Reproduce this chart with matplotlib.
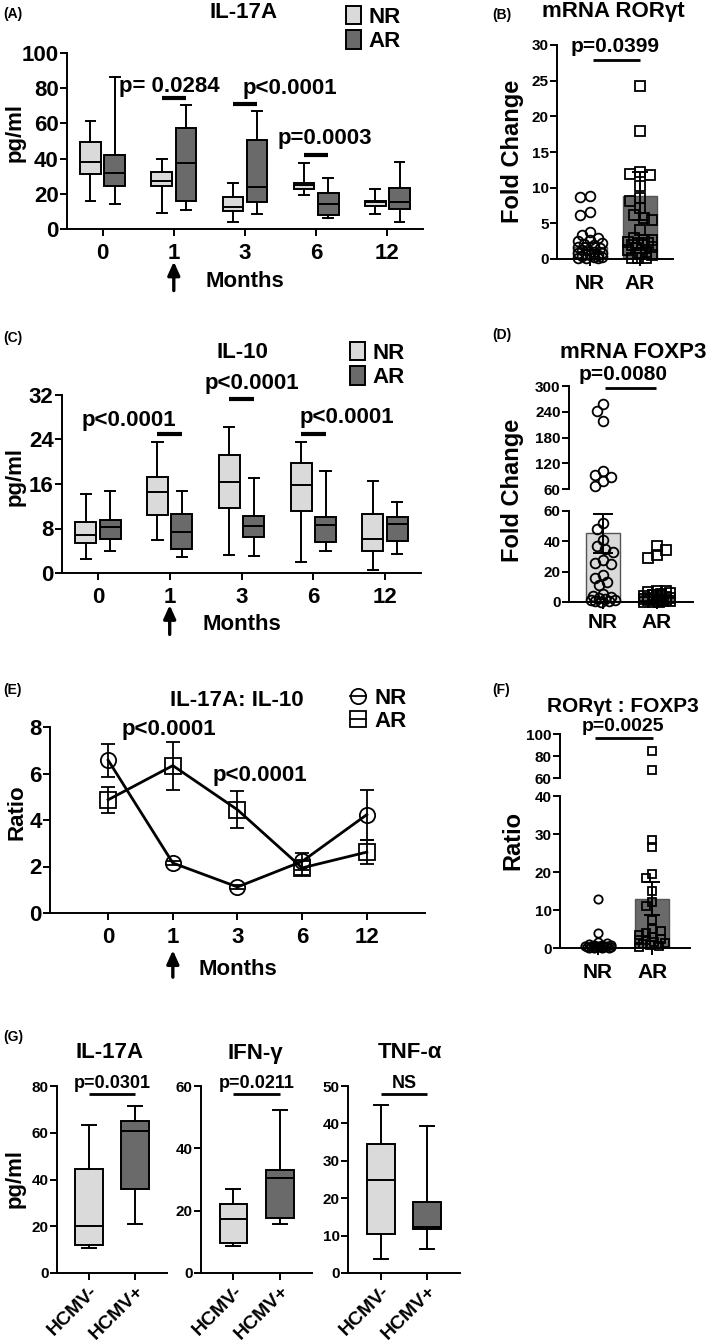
import numpy as np
import matplotlib
matplotlib.use('Agg')
import matplotlib.pyplot as plt
from matplotlib.patches import Patch
from matplotlib.lines import Line2D
from matplotlib.transforms import blended_transform_factory

plt.rcParams['font.family'] = ['Liberation Sans', 'DejaVu Sans']
plt.rcParams['font.weight'] = 'bold'
plt.rcParams['axes.linewidth'] = 1.4

W, H = 709, 1342
LIGHT = '#dadada'
DARK = '#6a6a6a'

# ---- data ----
months = ['0', '1', '3', '6', '12']
groups = ['NR', 'AR']

# box stats per month: (whislo, q1, med, q3, whishi)
il17a_nr = [(15.9, 31.3, 37.9, 49.4, 61.4), (9.1, 24.6, 27.0, 32.4, 39.6),
            (4.2, 10.0, 12.5, 18.2, 26.3), (19.1, 22.9, 25.2, 26.3, 37.3),
            (8.5, 12.9, 15.2, 16.1, 22.9)]
il17a_ar = [(14.0, 24.4, 31.6, 42.0, 86.4), (10.6, 16.1, 37.3, 57.4, 70.6),
            (8.7, 15.2, 23.9, 50.4, 66.9), (6.4, 8.1, 14.2, 20.6, 28.8),
            (4.0, 11.4, 15.5, 23.3, 37.9)]
il17a_sig_month = [1, 2, 3]
il17a_sig_y = [74.4, 71.2, 41.9]

il10_nr = [(2.5, 5.4, 6.9, 9.2, 14.2), (6.0, 10.5, 14.5, 17.3, 23.5),
           (3.2, 11.6, 16.3, 21.2, 26.2), (2.0, 11.2, 15.8, 19.8, 23.6),
           (0.6, 3.9, 6.1, 10.6, 16.6)]
il10_ar = [(3.9, 6.2, 8.2, 9.5, 14.8), (2.8, 4.4, 7.3, 10.6, 14.8),
           (3.1, 6.4, 8.5, 10.3, 17.0), (3.9, 5.6, 8.6, 10.1, 18.4),
           (3.5, 5.8, 8.8, 10.0, 12.8)]
il10_sig_month = [1, 2, 3]
il10_sig_y = [24.9, 31.3, 24.9]

ratio_nr = [6.57, 2.15, 1.12, 2.22, 4.23]
ratio_nr_err = [0.7, 0.1, 0.1, 0.35, 1.07]
ratio_ar = [4.87, 6.34, 4.44, 1.94, 2.62]
ratio_ar_err = [0.55, 1.03, 0.8, 0.3, 0.5]

ror_nr = [8.9, 8.7, 6.6, 6.2, 3.8, 3.3, 3.0, 2.7, 2.5, 2.3, 2.1, 1.9, 1.7, 1.5,
          1.3, 1.2, 1.0, 0.9, 0.8, 0.7, 0.6, 0.5, 0.4, 0.3, 0.3, 0.2, 0.2, 0.1]
ror_ar = [24.2, 17.9, 12.2, 11.9, 11.8, 10.3, 8.6, 8.2, 7.1, 6.2, 5.8, 5.4, 4.0,
          3.0, 2.7, 2.6, 2.4, 2.3, 2.2, 2.0, 1.9, 1.7, 1.5, 1.2, 1.0, 0.8, 0.5,
          0.2, 0.1, 0.1]
ror_mean = [1.7, 8.8]
ror_err = [0.5, 3.4]

foxp3_nr = [258, 242, 218, 101, 93, 87, 78, 66, 52, 48, 41, 37, 35, 33, 28, 26,
            25, 18, 16, 13, 11, 5, 4, 3, 2.5, 2, 1.5, 1, 0.8, 0.5, 0.3]
foxp3_ar = [37, 34, 31, 29, 7.5, 7, 6.5, 6, 5, 4.5, 4, 3.5, 3, 2.8, 2.5, 2.2,
            2, 1.8, 1.5, 1.2, 1, 0.8, 0.5, 0.3, 0.2, 0.1]
foxp3_mean = [45.3, 4.5]
foxp3_err = [13.0, 3.2]

rf_nr = [12.8, 3.9, 1.5, 1.2, 1.0, 0.9, 0.8, 0.7, 0.6, 0.5, 0.45, 0.4, 0.35,
         0.3, 0.25, 0.2, 0.15, 0.1, 0.1, 0.05, 0.05]
rf_ar = [85, 67, 28.5, 26.5, 19.5, 18.3, 15, 12, 11, 7.5, 5, 4.5, 4, 3.5, 3,
         2.5, 2.2, 2, 1.5, 1.2, 1, 0.8, 0.5, 0.3]
rf_mean = [0.8, 13.0]
rf_err = [0.5, 4.3]

hcmv = ['HCMV-', 'HCMV+']
g_il17a = [(10.7, 12.1, 19.9, 44.3, 63.2), (20.9, 35.8, 60.7, 65.1, 71.3)]
g_ifng = [(8.7, 9.6, 17.3, 22.1, 27.0), (15.7, 17.6, 30.4, 33.0, 52.2)]
g_tnfa = [(3.8, 10.4, 24.9, 34.5, 45.0), (6.5, 11.7, 12.3, 18.9, 39.3)]

fig = plt.figure(figsize=(W / 100, H / 100), dpi=100)


def add_ax(left, top, right, bottom):
    # pixel box -> figure fraction
    return fig.add_axes([left / W, 1 - bottom / H, (right - left) / W, (bottom - top) / H])


def ftext(x, y, s, **kw):
    kw.setdefault('ha', 'center')
    kw.setdefault('va', 'center')
    fig.text(x / W, 1 - y / H, s, **kw)


def style(ax, ysize, xsize, xpad=3):
    for s in ['top', 'right']:
        ax.spines[s].set_visible(False)
    ax.tick_params(axis='y', direction='out', length=5, width=1.4, labelsize=ysize, pad=1)
    ax.tick_params(axis='x', direction='out', length=5, width=1.4, labelsize=xsize, pad=xpad)


def boxes(ax, rows, pos, color, width, capw):
    stats = [dict(whislo=a, q1=b, med=c, q3=d, whishi=e) for a, b, c, d, e in rows]
    lp = dict(color='black', linewidth=1.4)
    ax.bxp(stats, positions=pos, widths=width, capwidths=capw, patch_artist=True,
           showfliers=False, manage_ticks=False,
           boxprops=dict(facecolor=color, edgecolor='black', linewidth=1.4),
           medianprops=lp, whiskerprops=lp, capprops=lp)


def swarm_x(vals, center, ax, d, maxo):
    # beeswarm-like spread, offsets limited to +-maxo pixels
    pos = ax.get_position()
    x0, x1 = ax.get_xlim()
    y0, y1 = ax.get_ylim()
    ppx = pos.width * W / (x1 - x0)
    ppy = pos.height * H / (y1 - y0)
    ys = (np.asarray(vals, dtype=float) - y0) * ppy
    cands = np.linspace(-maxo, maxo, 13)
    cands = cands[np.argsort(np.abs(cands), kind='stable')]
    xs = np.zeros(len(ys))
    placed = []
    for i in np.argsort(-ys):
        best, best_d = 0.0, -1.0
        for off in cands:
            md = min([np.hypot(off - px, ys[i] - py) for px, py in placed] or [1e9])
            if md >= 0.85 * d:
                best = off
                break
            if md > best_d:
                best, best_d = off, md
        placed.append((best, ys[i]))
        xs[i] = center + best / ppx
    return xs


def scatter_group(ax, vals, center, marker, ms, d, maxo):
    if len(vals) == 0:
        return
    xs = swarm_x(vals, center, ax, d, maxo)
    ax.plot(xs, vals, linestyle='none', marker=marker, ms=ms, mfc='none', mec='black',
            mew=1.3, zorder=3, clip_on=False)


def sig(ax, x1, x2, y, lw=2.5):
    ax.plot([x1, x2], [y, y], color='black', lw=lw, solid_capstyle='butt', clip_on=False)


def months_label(ax, ylab, ytip, ytail):
    tr = blended_transform_factory(ax.transData, ax.transAxes)
    ax.text(2, ylab, 'Months', transform=tr, ha='center', va='center', fontsize=16)
    ax.annotate('', xy=(1, ytip), xytext=(1, ytail), xycoords=tr, textcoords=tr,
                arrowprops=dict(arrowstyle='-|>,head_length=0.4,head_width=0.18',
                                lw=2.4, color='black', mutation_scale=20, shrinkA=0, shrinkB=0))


def box_legend(x, y):
    handles = [Patch(facecolor=LIGHT, edgecolor='black', lw=1.4, label='NR'),
               Patch(facecolor=DARK, edgecolor='black', lw=1.4, label='AR')]
    fig.legend(handles=handles, loc='upper left', bbox_to_anchor=(x / W, 1 - y / H),
               frameon=False, fontsize=16, handlelength=0.68, handleheight=0.9,
               handletextpad=0.35, labelspacing=0.1, borderpad=0, borderaxespad=0)


x = np.arange(len(months))

# ---- (A) IL-17A ----
axA = add_ax(67, 53, 423, 229)
boxes(axA, il17a_nr, x - 0.17, LIGHT, 0.29, 0.14)
boxes(axA, il17a_ar, x + 0.17, DARK, 0.29, 0.14)
axA.set_xlim(-0.5, 4.5)
axA.set_ylim(0, 100)
axA.set_yticks([0, 20, 40, 60, 80, 100])
axA.set_xticks(x, months)
style(axA, 16, 16, 5)
for m, yb in zip(il17a_sig_month, il17a_sig_y):
    sig(axA, m - 0.17, m + 0.17, yb, 3)
axA.text(0.93, 80.7, 'p= 0.0284', ha='center', va='center', fontsize=16)
axA.text(1.97, 79.7, 'p<0.0001', ha='left', va='center', fontsize=16)
axA.text(2.46, 51.7, 'p=0.0003', ha='left', va='center', fontsize=16)
months_label(axA, -0.30, -0.185, -0.35)
ftext(244, 13, 'IL-17A', fontsize=16)
ftext(15, 133, 'pg/ml', rotation=90, fontsize=16)
ftext(3, 14, '(A)', ha='left', fontsize=10)
box_legend(346, 6)

# ---- (B) mRNA RORgt ----
axB = add_ax(557, 45, 673, 259)
axB.set_xlim(-0.66, 1.66)
axB.set_ylim(0, 30)
axB.bar([0, 1], ror_mean, width=0.68, color=[LIGHT, DARK], edgecolor='#555555', lw=1, zorder=1)
scatter_group(axB, ror_nr, 0, 'o', 7, 10, 12)
scatter_group(axB, ror_ar, 1, 's', 7, 10, 12)
axB.errorbar([0, 1], ror_mean, yerr=ror_err, fmt='none', ecolor='black', elinewidth=1.4,
             capsize=6, capthick=1.4, zorder=4)
axB.set_yticks([0, 5, 10, 15, 20, 25, 30])
axB.set_xticks([0, 1], groups)
style(axB, 11, 15, 6)
sig(axB, 0.05, 1.0, 27.9, 2)
axB.text(0.5, 29.8, 'p=0.0399', ha='center', va='center', fontsize=15)
ftext(613, 12, 'mRNA ROR\u03b3t', fontsize=16)
ftext(513, 151, 'Fold Change', rotation=90, fontsize=17)
ftext(492, 15, '(B)', ha='left', fontsize=10)

# ---- (C) IL-10 ----
axC = add_ax(62, 395, 421, 573)
boxes(axC, il10_nr, x - 0.17, LIGHT, 0.29, 0.14)
boxes(axC, il10_ar, x + 0.17, DARK, 0.29, 0.14)
axC.set_xlim(-0.5, 4.5)
axC.set_ylim(0, 32)
axC.set_yticks([0, 8, 16, 24, 32])
axC.set_xticks(x, months)
style(axC, 16, 16, 5)
for m, yb in zip(il10_sig_month, il10_sig_y):
    sig(axC, m - 0.17, m + 0.17, yb, 3)
axC.text(0.43, 27.4, 'p<0.0001', ha='center', va='center', fontsize=16)
axC.text(2.15, 34.1, 'p<0.0001', ha='center', va='center', fontsize=16)
axC.text(3.47, 28.0, 'p<0.0001', ha='center', va='center', fontsize=16)
months_label(axC, -0.29, -0.18, -0.345)
ftext(242, 352, 'IL-10', fontsize=16)
ftext(15, 476, 'pg/ml', rotation=90, fontsize=16)
ftext(3, 338, '(C)', ha='left', fontsize=10)
box_legend(350, 342)

# ---- (D) mRNA FOXP3, broken axis ----
axDu = add_ax(569, 386, 693, 489)
axDl = add_ax(569, 511, 693, 602)
for ax, lo, hi in [(axDu, 60, 300), (axDl, 0, 60)]:
    ax.set_xlim(-0.63, 1.67)
    ax.set_ylim(lo, hi)
axDl.bar([0, 1], foxp3_mean, width=0.64, color=[LIGHT, DARK], edgecolor='#555555', lw=1, zorder=1)
for ax, keep in [(axDu, lambda v: v > 60), (axDl, lambda v: v <= 60)]:
    scatter_group(ax, [v for v in foxp3_nr if keep(v)], 0, 'o', 7, 10, 12)
    scatter_group(ax, [v for v in foxp3_ar if keep(v)], 1, 's', 7, 10, 13)
axDl.errorbar([0, 1], foxp3_mean, yerr=foxp3_err, fmt='none', ecolor='black', elinewidth=1.4,
              capsize=7, capthick=1.4, zorder=4)
axDu.set_yticks([60, 120, 180, 240, 300])
axDl.set_yticks([0, 20, 40, 60])
style(axDu, 11, 11)
style(axDl, 11, 15, 3)
axDu.spines['bottom'].set_visible(False)
axDu.set_xticks([])
axDl.set_xticks([0, 1], groups)
sig(axDu, 0.04, 0.98, 295, 2)
axDu.text(0.37, 326, 'p=0.0080', ha='center', va='center', fontsize=15)
ftext(633, 352, 'mRNA FOXP3', fontsize=16)
ftext(513, 490, 'Fold Change', rotation=90, fontsize=17)
ftext(492, 335, '(D)', ha='left', fontsize=10)

# ---- (E) IL-17A : IL-10 ratio ----
axE = add_ax(50, 727, 425, 913)
axE.errorbar(x, ratio_nr, yerr=ratio_nr_err, color='black', lw=2, marker='o', ms=11,
             mfc='none', mec='black', mew=1.3, elinewidth=1.3, capsize=5, capthick=1.3)
axE.errorbar(x, ratio_ar, yerr=ratio_ar_err, color='black', lw=2, marker='s', ms=11,
             mfc='none', mec='black', mew=1.3, elinewidth=1.3, capsize=5, capthick=1.3)
axE.set_xlim(-0.9, 4.9)
axE.set_ylim(0, 8)
axE.set_yticks([0, 2, 4, 6, 8])
axE.set_xticks(x, months)
style(axE, 16, 16, 5)
axE.text(0.2, 7.9, 'p<0.0001', ha='left', va='center', fontsize=16)
axE.text(1.62, 5.9, 'p<0.0001', ha='left', va='center', fontsize=16)
months_label(axE, -0.306, -0.2, -0.345)
ftext(237, 700, 'IL-17A: IL-10', fontsize=16)
ftext(17, 812, 'Ratio', rotation=90, fontsize=16)
ftext(3, 690, '(E)', ha='left', fontsize=10)
eh = [Line2D([], [], color='black', lw=1.3, marker='o', ms=11, mfc='none', mew=1.3, label='NR'),
      Line2D([], [], color='black', lw=1.3, marker='s', ms=11, mfc='none', mew=1.3, label='AR')]
fig.legend(handles=eh, loc='upper left', bbox_to_anchor=(350 / W, 1 - 688 / H), frameon=False,
           fontsize=16, handlelength=0.7, handletextpad=0.4, labelspacing=0.08,
           borderpad=0, borderaxespad=0)

# ---- (F) RORgt : FOXP3, broken axis ----
axFu = add_ax(560, 734, 690, 778)
axFl = add_ax(560, 796, 690, 948)
for ax, lo, hi in [(axFu, 60, 100), (axFl, 0, 40)]:
    ax.set_xlim(-0.7, 1.7)
    ax.set_ylim(lo, hi)
axFl.bar([0, 1], rf_mean, width=0.64, color=[LIGHT, DARK], edgecolor='#555555', lw=1, zorder=1)
for ax, keep in [(axFu, lambda v: v > 40), (axFl, lambda v: v <= 40)]:
    scatter_group(ax, [v for v in rf_nr if keep(v)], 0, 'o', 6, 8, 13)
    scatter_group(ax, [v for v in rf_ar if keep(v)], 1, 's', 6, 8, 13)
axFl.errorbar([0, 1], rf_mean, yerr=rf_err, fmt='none', ecolor='black', elinewidth=1.4,
              capsize=6, capthick=1.4, zorder=4)
axFu.set_yticks([60, 80, 100])
axFl.set_yticks([0, 10, 20, 30, 40])
style(axFu, 11, 11)
style(axFl, 11, 15, 6)
axFu.spines['bottom'].set_visible(False)
axFu.set_xticks([])
axFl.set_xticks([0, 1], groups)
sig(axFu, -0.05, 1.02, 96.4, 2)
axFu.text(0.46, 106.5, 'p=0.0025', ha='center', va='center', fontsize=14)
ftext(623, 706, 'ROR\u03b3t : FOXP3', fontsize=15)
ftext(513, 840, 'Ratio', rotation=90, fontsize=17)
ftext(492, 690, '(F)', ha='left', fontsize=10)

# ---- (G) HCMV ----
g_specs = [(57, 167, g_il17a, 80, 20, 'IL-17A', 'p=0.0301', 110),
           (201, 312, g_ifng, 60, 20, 'IFN-\u03b3', 'p=0.0211', 255),
           (348, 460, g_tnfa, 50, 10, 'TNF-\u03b1', 'NS', 410)]
for left, right, rows, ymax, step, title, ptxt, tx in g_specs:
    ax = add_ax(left, 1086, right, 1273)
    boxes(ax, rows[:1], [0], LIGHT, 0.6, 0.3)
    boxes(ax, rows[1:], [1], DARK, 0.6, 0.3)
    ax.set_xlim(-0.7, 1.7)
    ax.set_ylim(0, ymax)
    ax.set_yticks(np.arange(0, ymax + 1, step))
    ax.set_xticks([0, 1], hcmv)
    style(ax, 11, 14, 2)
    for lab in ax.get_xticklabels():
        lab.set_rotation(45)
        lab.set_ha('right')
        lab.set_rotation_mode('anchor')
    sig(ax, 0, 1, ymax * 0.955, 2)
    ax.text(0.5, ymax * 1.016, ptxt, ha='center', va='center', fontsize=13)
    ftext(tx, 1053, title, fontsize=16)
ftext(15, 1178, 'pg/ml', rotation=90, fontsize=16)
ftext(3, 1037, '(G)', ha='left', fontsize=10)

fig.savefig('out.png', dpi=100)
